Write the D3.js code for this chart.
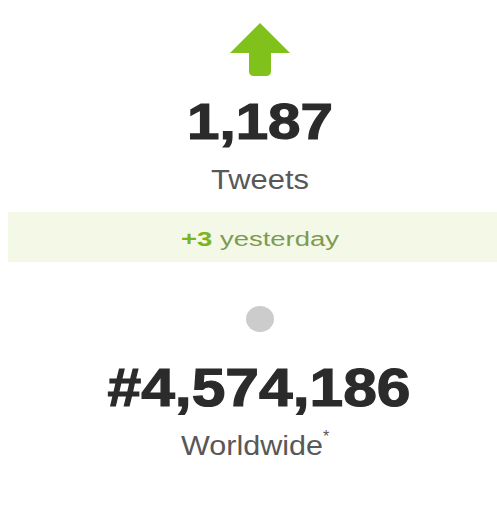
<!DOCTYPE html>
<html>
<head>
<meta charset="utf-8">
<script src="https://cdn.jsdelivr.net/npm/d3@7"></script>
<style>
  body { margin: 0; background: #fff; }
  svg text { font-family: "Liberation Sans", Arial, sans-serif; }
</style>
</head>
<body>
<svg id="chart" width="497" height="527"></svg>
<script>
// stat values
var statNames  = ["Tweets", "Worldwide"];
var statValues = [1187, 4574186];
var changeValues = [3];
var changeLabels = ["yesterday"];

var svg = d3.select("#chart");
var W = 497, cx = 260;

var fmt = d3.format(",");

// vertical layout of the widget rows
var y = d3.scaleLinear().domain([0, 527]).range([0, 527]);

// green up arrow
var arrow = d3.path();
arrow.moveTo(cx, y(23));
arrow.lineTo(cx + 30, y(53));
arrow.lineTo(cx + 11, y(53));
arrow.lineTo(cx + 11, y(71));
arrow.quadraticCurveTo(cx + 11, y(76), cx + 6, y(76));
arrow.lineTo(cx - 6, y(76));
arrow.quadraticCurveTo(cx - 11, y(76), cx - 11, y(71));
arrow.lineTo(cx - 11, y(53));
arrow.lineTo(cx - 30, y(53));
arrow.closePath();
svg.append("path").attr("d", arrow.toString()).attr("fill", "#80c11c");

// tweets count
svg.append("text")
  .attr("x", cx).attr("y", y(139))
  .attr("text-anchor", "middle")
  .attr("font-size", 50).attr("font-weight", "bold")
  .attr("fill", "#2b2b2b").attr("stroke", "#2b2b2b").attr("stroke-width", 1.2)
  .attr("textLength", 146).attr("lengthAdjust", "spacingAndGlyphs")
  .text(fmt(statValues[0]));

svg.append("text")
  .attr("x", cx).attr("y", y(189))
  .attr("text-anchor", "middle")
  .attr("font-size", 27)
  .attr("fill", "#585858")
  .attr("textLength", 98).attr("lengthAdjust", "spacingAndGlyphs")
  .text(statNames[0]);

// change band
svg.append("rect")
  .attr("x", 8).attr("y", y(212))
  .attr("width", W - 8).attr("height", 50)
  .attr("fill", "#f3f9e6");

var ch = svg.append("text")
  .attr("x", cx).attr("y", y(246))
  .attr("text-anchor", "middle")
  .attr("font-size", 20)
  .attr("textLength", 158).attr("lengthAdjust", "spacingAndGlyphs");
ch.append("tspan").attr("font-weight", "bold").attr("fill", "#7ab51d")
  .text("+" + changeValues[0]);
ch.append("tspan").attr("fill", "#7f9a55")
  .text(" " + changeLabels[0]);

// rank dot
svg.append("ellipse")
  .attr("cx", cx).attr("cy", y(319))
  .attr("rx", 14).attr("ry", 13)
  .attr("fill", "#cccccc");

// rank
svg.append("text")
  .attr("x", cx - 1).attr("y", y(406))
  .attr("text-anchor", "middle")
  .attr("font-size", 54).attr("font-weight", "bold")
  .attr("fill", "#2b2b2b").attr("stroke", "#2b2b2b").attr("stroke-width", 1.2)
  .attr("textLength", 303).attr("lengthAdjust", "spacingAndGlyphs")
  .text("#" + fmt(statValues[1]));

svg.append("text")
  .attr("x", cx - 8).attr("y", y(455))
  .attr("text-anchor", "middle")
  .attr("font-size", 27)
  .attr("fill", "#585858")
  .attr("textLength", 142).attr("lengthAdjust", "spacingAndGlyphs")
  .text(statNames[1]);
svg.append("text")
  .attr("x", cx + 63).attr("y", y(442))
  .attr("font-size", 16)
  .attr("fill", "#555")
  .text("*");
</script>
</body>
</html>
